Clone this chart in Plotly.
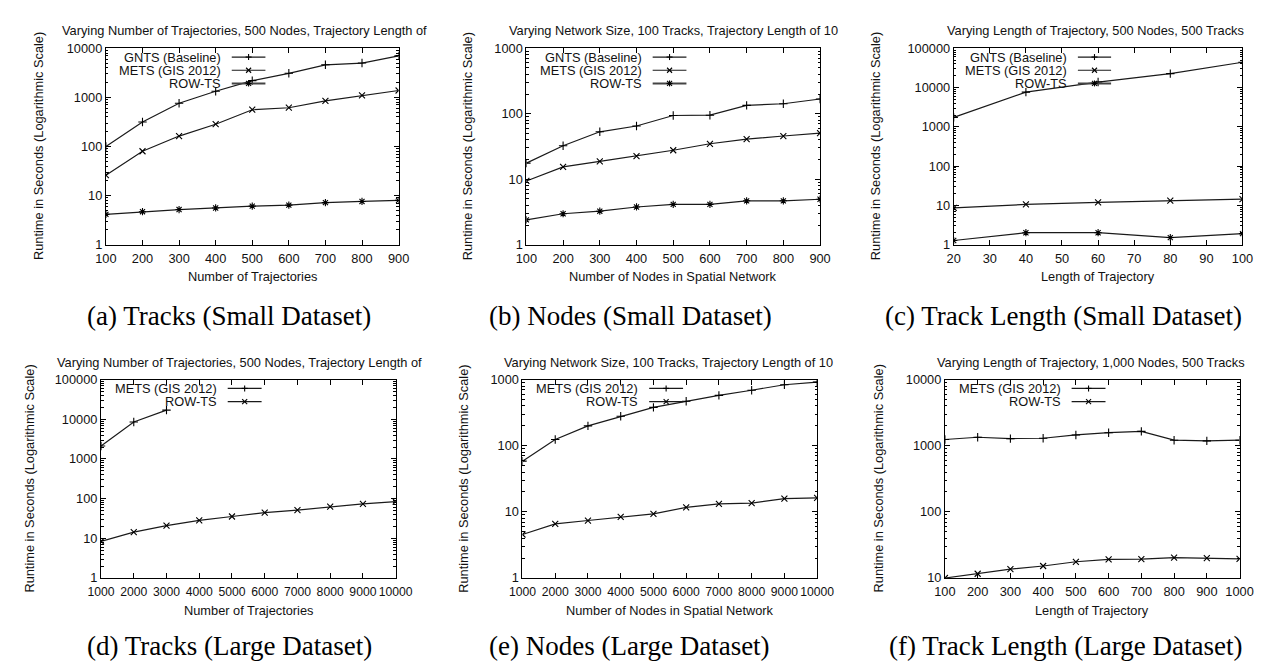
import plotly.graph_objects as go

# ---------------- data ----------------
# (a) Tracks (Small Dataset)
a_x = [100, 200, 300, 400, 500, 600, 700, 800, 900]
a_gnts = [100, 316, 760, 1330, 2190, 3090, 4600, 5000, 7000]
a_mets = [26, 80, 163, 284, 560, 615, 850, 1100, 1380]
a_row = [4.15, 4.7, 5.2, 5.6, 6.1, 6.4, 7.2, 7.6, 8.0]

# (b) Nodes (Small Dataset)
b_x = [100, 200, 300, 400, 500, 600, 700, 800, 900]
b_gnts = [17.6, 32.5, 53, 65, 94, 95, 134, 142, 168]
b_mets = [9.4, 15.4, 18.7, 22.6, 27.7, 34.8, 41, 45.7, 50.5]
b_row = [2.4, 2.97, 3.25, 3.77, 4.13, 4.13, 4.68, 4.68, 4.95]

# (c) Track Length (Small Dataset)
c_x = [20, 40, 60, 80, 100]
c_gnts = [1740, 7660, 13800, 22600, 44000]
c_mets = [8.7, 10.6, 11.9, 13.3, 14.4]
c_row = [1.28, 2.02, 2.02, 1.52, 1.91]

# (d) Tracks (Large Dataset)
d_x = [1000, 2000, 3000, 4000, 5000, 6000, 7000, 8000, 9000, 10000]
d_mets_x = [1000, 2000, 3000]
d_mets = [2130, 8560, 17000]
d_row = [8.4, 14.3, 20.9, 28.3, 35.5, 44.4, 51.6, 63, 74, 84]

# (e) Nodes (Large Dataset)
e_x = [1000, 2000, 3000, 4000, 5000, 6000, 7000, 8000, 9000, 10000]
e_mets = [58.5, 124, 200, 279, 380, 470, 578, 690, 836, 917]
e_row = [4.55, 6.6, 7.4, 8.4, 9.3, 11.7, 13.2, 13.6, 15.9, 16.3]

# (f) Track Length (Large Dataset)
f_x = [100, 200, 300, 400, 500, 600, 700, 800, 900, 1000]
f_mets = [1242, 1343, 1283, 1297, 1455, 1575, 1648, 1213, 1185, 1213]
f_row = [10, 11.6, 13.6, 15.2, 17.6, 19.1, 19.3, 20.4, 20.0, 19.5]

titles = [
    "Varying Number of Trajectories, 500 Nodes, Trajectory Length of",
    "Varying Network Size, 100 Tracks, Trajectory Length of 10",
    "Varying Length of Trajectory, 500 Nodes, 500 Tracks",
    "Varying Number of Trajectories, 500 Nodes, Trajectory Length of",
    "Varying Network Size, 100 Tracks, Trajectory Length of 10",
    "Varying Length of Trajectory, 1,000 Nodes, 500 Tracks",
]
xlabels = [
    "Number of Trajectories", "Number of Nodes in Spatial Network", "Length of Trajectory",
    "Number of Trajectories", "Number of Nodes in Spatial Network", "Length of Trajectory",
]
ylabel = "Runtime in Seconds (Logarithmic Scale)"
captions = [
    "(a) Tracks (Small Dataset)", "(b) Nodes (Small Dataset)", "(c) Track Length (Small Dataset)",
    "(d) Tracks (Large Dataset)", "(e) Nodes (Large Dataset)", "(f) Track Length (Large Dataset)",
]
NAME_GNTS = "GNTS (Baseline)"
NAME_METS = "METS (GIS 2012)"
NAME_ROW = "ROW-TS"

# ---------------- layout helpers ----------------
W, H = 1271, 664
SANS = "Liberation Sans, Arial, sans-serif"
SERIF = "Liberation Serif, Times New Roman, serif"
INK = "#111111"
FS = 12.8

def fx(px):
    return px / W

def fy(py):
    return 1 - py / H

# plot boxes in pixels (left, top, right, bottom)
panels = [
    dict(box=(86, 33, 386, 234), xr=[100, 900], dx=100, yr=[0, 4], xfs=FS,
         series=[(NAME_GNTS, a_x, a_gnts, "plus"), (NAME_METS, a_x, a_mets, "x"), (NAME_ROW, a_x, a_row, "ast")],
         title_cx=228, ylab_x=17, cap_cx=212),
    dict(box=(517, 33, 818, 234), xr=[100, 900], dx=100, yr=[0, 3], xfs=FS,
         series=[(NAME_GNTS, b_x, b_gnts, "plus"), (NAME_METS, b_x, b_mets, "x"), (NAME_ROW, b_x, b_row, "ast")],
         title_cx=668, ylab_x=457, cap_cx=624),
    dict(box=(955, 33, 1251, 234), xr=[20, 100], dx=10, yr=[0, 5], xfs=FS,
         series=[(NAME_GNTS, c_x, c_gnts, "plus"), (NAME_METS, c_x, c_mets, "x"), (NAME_ROW, c_x, c_row, "ast")],
         title_cx=1100, ylab_x=875, cap_cx=1068),
    dict(box=(81, 372, 383, 575), xr=[1000, 10000], dx=1000, yr=[0, 5], xfs=12.2,
         series=[(NAME_METS, d_mets_x, d_mets, "plus"), (NAME_ROW, d_x, d_row, "x")],
         title_cx=223, ylab_x=8, cap_cx=213),
    dict(box=(513, 372, 815, 575), xr=[1000, 10000], dx=1000, yr=[0, 3], xfs=12.2,
         series=[(NAME_METS, e_x, e_mets, "plus"), (NAME_ROW, e_x, e_row, "x")],
         title_cx=663, ylab_x=453, cap_cx=623),
    dict(box=(946, 372, 1248, 575), xr=[100, 1000], dx=100, yr=[1, 4], xfs=FS,
         series=[(NAME_METS, f_x, f_mets, "plus"), (NAME_ROW, f_x, f_row, "x")],
         title_cx=1096, ylab_x=878, cap_cx=1070),
]

SYM = {"plus": "cross-thin", "x": "x-thin", "ast": "asterisk"}

fig = go.Figure()
layout = dict(
    width=W, height=H, margin=dict(l=0, r=0, t=0, b=0),
    paper_bgcolor="white", plot_bgcolor="white", showlegend=False,
    font=dict(family=SANS, color=INK),
)
annotations = []
shapes = []

for i, p in enumerate(panels):
    k = "" if i == 0 else str(i + 1)
    xa, ya = "x" + k, "y" + k
    l, t, r, b = p["box"]
    axis_common = dict(
        showline=True, linecolor="#000", linewidth=1, mirror="ticks",
        ticks="inside", ticklen=5, tickcolor="#000", tickwidth=1,
        showgrid=False, zeroline=False,
    )
    layout["xaxis" + k] = dict(
        axis_common, domain=[fx(l), fx(r)], range=p["xr"], tick0=p["xr"][0], dtick=p["dx"],
        tickformat="d", tickangle=0, anchor=ya, ticklabelstandoff=2,
        tickfont=dict(family=SANS, size=p["xfs"], color=INK),
    )
    layout["yaxis" + k] = dict(
        axis_common, domain=[fy(b), fy(t)], type="log", range=p["yr"], dtick=1,
        tickformat="d", exponentformat="none", anchor=xa,
        tickfont=dict(family=SANS, size=FS, color=INK),
        minor=dict(ticks="inside", ticklen=2.5, tickcolor="#000", dtick="D1", showgrid=False),
    )
    for name, xs, ys, sym in p["series"]:
        fig.add_trace(go.Scatter(
            x=xs, y=ys, mode="lines+markers", name=name, xaxis=xa, yaxis=ya,
            line=dict(color="#1a1a1a", width=1.2),
            marker=dict(symbol=SYM[sym], size=6, color="#000", line=dict(color="#000", width=1.1)),
        ))
    # title
    annotations.append(dict(text=titles[i], x=fx(p["title_cx"]), y=fy(t - 18), xref="paper", yref="paper",
                            xanchor="center", yanchor="middle", showarrow=False,
                            font=dict(family=SANS, size=FS, color=INK)))
    # x label
    annotations.append(dict(text=xlabels[i], x=fx((l + r) / 2), y=fy(b + 33), xref="paper", yref="paper",
                            xanchor="center", yanchor="middle", showarrow=False,
                            font=dict(family=SANS, size=FS, color=INK)))
    # y label
    annotations.append(dict(text=ylabel, x=fx(p["ylab_x"]), y=fy((t + b) / 2), xref="paper", yref="paper",
                            xanchor="center", yanchor="middle", showarrow=False, textangle=-90,
                            font=dict(family=SANS, size=FS, color=INK)))
    # caption
    annotations.append(dict(text=captions[i], x=fx(p["cap_cx"]), y=fy(307 if i < 3 else 645), xref="paper", yref="paper",
                            xanchor="center", yanchor="middle", showarrow=False,
                            font=dict(family=SERIF, size=27, color="#000")))
    # legend (gnuplot style: text, then sample line with marker)
    hpx = b - t
    for j, (name, xs, ys, sym) in enumerate(p["series"]):
        off = 9 + 13.5 * j
        yd = 1 - off / hpx
        annotations.append(dict(text=name, x=0.40, y=yd, xref=xa + " domain", yref=ya + " domain",
                                xanchor="right", yanchor="middle", showarrow=False,
                                font=dict(family=SANS, size=FS, color=INK)))
        is_row = name == NAME_ROW and i < 3
        shapes.append(dict(type="line", xref=xa + " domain", yref=ya + " domain",
                           x0=0.43, x1=0.545, y0=yd, y1=yd,
                           line=dict(color="#444" if is_row else "#1a1a1a", width=2 if is_row else 1.2)))
        cx = 0.4875
        segs = []
        if sym in ("plus", "ast"):
            segs += [(-3, 0, 3, 0), (0, -3, 0, 3)]
        if sym in ("x", "ast"):
            segs += [(-2.5, -2.5, 2.5, 2.5), (-2.5, 2.5, 2.5, -2.5)]
        for (x0, y0, x1, y1) in segs:
            shapes.append(dict(type="line", xref=xa + " domain", yref=ya + " domain",
                               xsizemode="pixel", ysizemode="pixel", xanchor=cx, yanchor=yd,
                               x0=x0, x1=x1, y0=y0, y1=y1, line=dict(color="#000", width=1.1)))

layout["annotations"] = annotations
layout["shapes"] = shapes
fig.update_layout(**layout)
fig.write_html("out.html")
